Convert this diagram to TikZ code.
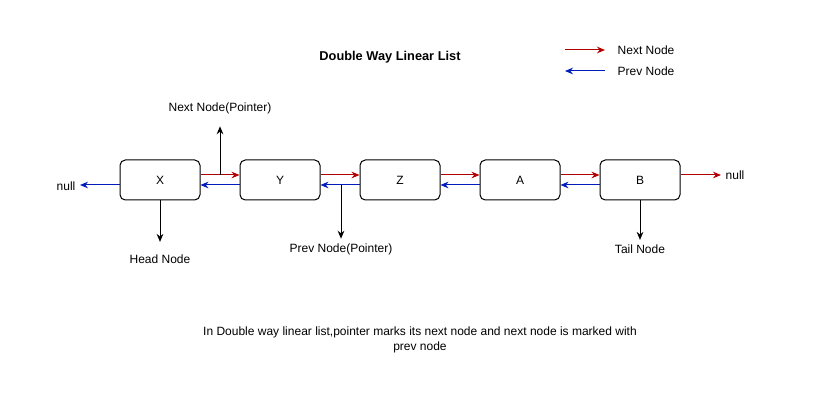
\documentclass[tikz,border=0pt]{standalone}
\usepackage{fontspec}
\setmainfont{Liberation Sans}
\usetikzlibrary{arrows.meta,positioning}
\definecolor{nextred}{HTML}{B20000}
\definecolor{prevblue}{HTML}{001DBC}
\begin{document}
\begin{tikzpicture}[x=0.75pt,y=-0.75pt,
    every node/.style={font=\fontsize{9}{11}\selectfont},
    listnode/.style={draw,line width=0.75pt,rounded corners=4pt,minimum width=60pt,minimum height=30pt},
    nextline/.style={nextred,line width=0.75pt,-{Stealth[length=6pt,width=5pt]}},
    prevline/.style={prevblue,line width=0.75pt,-{Stealth[length=6pt,width=5pt]}},
    markline/.style={black,line width=0.75pt,-{Stealth[length=6pt,width=5pt]}}]
      \useasboundingbox (0,0) rectangle (827,420);
      \fill[white] (0,0) rectangle (827,420);
      % title and legend
      \node[font=\fontsize{9.6}{11}\selectfont\bfseries] (title) at (390,57) {Double Way Linear List};
      \coordinate (nexta) at (565,50);
      \coordinate (nextb) at (605,50);
      \coordinate (preva) at (605,71);
      \coordinate (prevb) at (565,71);
      \draw[nextline] (nexta) -- (nextb);
      \draw[prevline] (preva) -- (prevb);
      \node[anchor=west] (nextkey) at (613,50) {Next Node};
      \node[anchor=west] (prevkey) at (613,71) {Prev Node};
      % list nodes
      \foreach \name/\lbl/\pos in {x/X/160,y/Y/280,z/Z/400,a/A/520,b/B/640}{
        \node[listnode] (\name) at (\pos,180) {\lbl};
      }
      % links between nodes
      \foreach \from/\to in {x/y,y/z,z/a,a/b}{
        \draw[nextline] ([yshift=3.75pt]\from.east) -- ([yshift=3.75pt]\to.west);
        \draw[prevline] ([yshift=-3.75pt]\to.west) -- ([yshift=-3.75pt]\from.east);
      }
      % ends of the list
      \node (nullleft) at (66,186) {null};
      \node (nullright) at (735,175) {null};
      \draw[prevline] ([yshift=-3.75pt]x.west) -- (nullleft.east |- 0,185);
      \draw[nextline] ([yshift=3.75pt]b.east) -- (nullright.west);
      % pointer marks
      \coordinate (nextptr) at (220,175);
      \coordinate (prevptr) at (341,185);
      \node (nextlbl) at (220,108) {Next Node(Pointer)};
      \node (prevlbl) at (341,249) {Prev Node(Pointer)};
      \node (headlbl) at (160,259) {Head Node};
      \node (taillbl) at (640,249) {Tail Node};
      \draw[markline,shorten >=6pt] (nextptr) -- (nextlbl.south);
      \draw[markline] (prevptr) -- (prevlbl.north);
      \draw[markline,shorten >=6pt] (x.south) -- (headlbl.north);
      \draw[markline] (b.south) -- (taillbl.north);
      % note
      \node[align=center] (note) at (420,340) {In Double way linear list,pointer marks its next node and next node is marked with\\prev node};
    \end{tikzpicture}
\end{document}
